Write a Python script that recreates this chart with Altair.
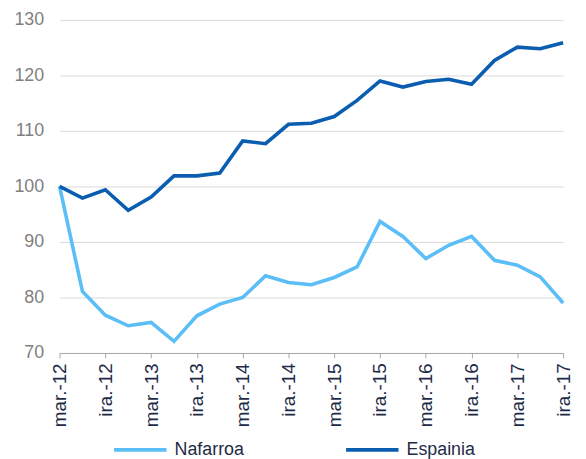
import altair as alt
import pandas as pd

quarters = [
    "mar.-12", "eka.-12", "ira.-12", "abe.-12",
    "mar.-13", "eka.-13", "ira.-13", "abe.-13",
    "mar.-14", "eka.-14", "ira.-14", "abe.-14",
    "mar.-15", "eka.-15", "ira.-15", "abe.-15",
    "mar.-16", "eka.-16", "ira.-16", "abe.-16",
    "mar.-17", "eka.-17", "ira.-17",
]
nafarroa = [100.0, 81.1, 76.8, 74.9, 75.5, 72.1, 76.7, 78.8, 80.0, 83.9, 82.7, 82.3,
            83.6, 85.5, 93.7, 91.0, 87.0, 89.4, 91.0, 86.7, 85.8, 83.7, 79.0]
espainia = [100.0, 97.9, 99.4, 95.7, 98.1, 101.9, 101.9, 102.4, 108.2, 107.7, 111.2, 111.4,
            112.6, 115.5, 119.0, 117.9, 118.9, 119.3, 118.4, 122.7, 125.1, 124.8, 125.9]
series_names = ["Nafarroa", "Espainia"]
series_colors = ["#5BBEF6", "#0B5DB0"]
tick_labels = [q for q in quarters if q.startswith("mar") or q.startswith("ira")]

rows = []
for i, q in enumerate(quarters):
    rows.append({"q": q, "serie": series_names[0], "v": nafarroa[i], "o": i})
    rows.append({"q": q, "serie": series_names[1], "v": espainia[i], "o": i})
df = pd.DataFrame(rows)

font = "Liberation Sans"

chart = alt.Chart(df).mark_line(strokeWidth=3.6).encode(
    x=alt.X("q:N", sort=quarters, title=None,
            scale=alt.Scale(type="point", padding=0),
            axis=alt.Axis(values=tick_labels, labelAngle=-90, labelFontSize=19,
                          labelColor="#1E2B47", labelFont=font, labelPadding=5,
                          tickSize=5, tickColor="#A6A6A6", domainColor="#A6A6A6",
                          grid=False, labelOverlap=False)),
    y=alt.Y("v:Q", title=None,
            scale=alt.Scale(domain=[70, 130], nice=False, zero=False),
            axis=alt.Axis(values=[70, 80, 90, 100, 110, 120, 130], labelFontSize=18,
                          labelColor="#7F7F7F", labelFont=font, labelPadding=16,
                          ticks=False, domain=False, gridColor="#D9D9D9")),
    color=alt.Color("serie:N", title=None,
                    scale=alt.Scale(domain=series_names, range=series_colors),
                    legend=alt.Legend(orient="none", legendX=53, legendY=405,
                                      direction="horizontal", symbolType="stroke",
                                      symbolSize=2800, symbolStrokeWidth=4,
                                      labelFontSize=18, labelFont=font,
                                      labelColor="#1E2B47", labelOffset=6,
                                      columnPadding=94)),
    detail="serie:N",
).properties(
    width=508, height=336,
    padding={"left": 5, "top": 1, "right": 5, "bottom": 5},
).configure_view(stroke=None)

chart.save("out.html", embed_options={"renderer": "svg", "actions": False})
